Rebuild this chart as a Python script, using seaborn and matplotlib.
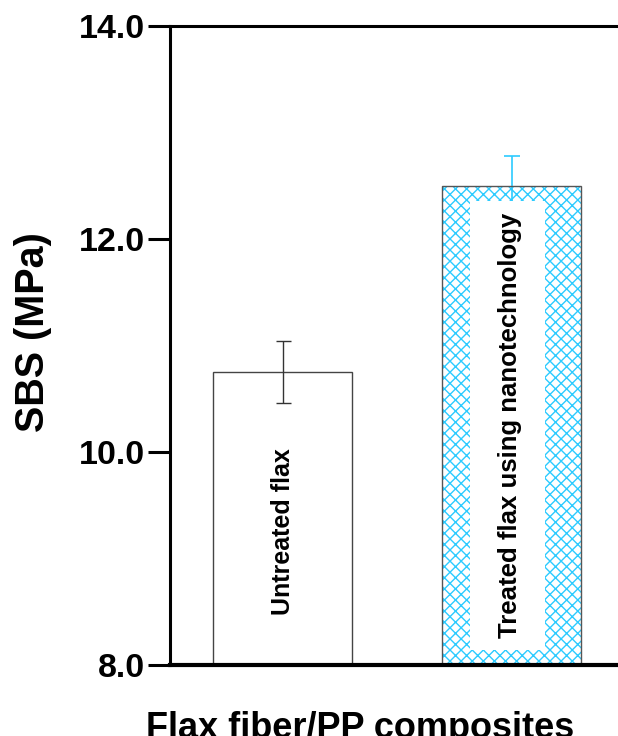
import matplotlib
matplotlib.use('Agg')
import matplotlib.pyplot as plt
import seaborn as sns
import pandas as pd
from matplotlib.patches import Rectangle

categories = ['Untreated flax', 'Treated flax using nanotechnology']
sbs_mean = [10.75, 12.49]
sbs_err = [0.29, 0.29]
y_ticks = [8.0, 10.0, 12.0, 14.0]
y_label = 'SBS (MPa)'
x_label = 'Flax fiber/PP composites'

sns.set_theme(style='white')
plt.rcParams['font.family'] = ['Liberation Sans', 'DejaVu Sans']
plt.rcParams['font.weight'] = 'bold'
plt.rcParams['hatch.linewidth'] = 1.0

W, H = 618, 736
fig = plt.figure(figsize=(W / 100, H / 100), dpi=100)
ax = fig.add_axes([170 / W, (H - 665) / H, (W - 170) / W, (665 - 25.5) / H])

df = pd.DataFrame({'cat': categories, 'sbs': sbs_mean})
sns.barplot(data=df, x='cat', y='sbs', ax=ax, width=0.607, errorbar=None,
            color='white', saturation=1)

ax.set_xlim(-0.493, 1.463)
ax.set_ylim(y_ticks[0], y_ticks[-1])

bars = ax.patches[:2]
b1, b2 = bars
b1.set_facecolor('white')
b1.set_edgecolor('#444444')
b1.set_linewidth(1.0)
b1.set_zorder(1)

blue = '#2ccbff'
b2.set_facecolor('white')
b2.set_edgecolor(blue)
b2.set_hatch('xxx')
b2.set_linewidth(0)
b2.set_zorder(1)
ax.add_patch(Rectangle((b2.get_x(), b2.get_y()), b2.get_width(), b2.get_height(),
                       facecolor='none', edgecolor='#555555', linewidth=1.0, zorder=2.5))

# error bars
xc = [b.get_x() + b.get_width() / 2 for b in bars]
ax.errorbar(xc[0], sbs_mean[0], yerr=sbs_err[0], color='#333333', capsize=5.4,
            elinewidth=1, capthick=1, zorder=2)
ax.errorbar(xc[1], sbs_mean[1], yerr=sbs_err[1], color=blue, capsize=5.8,
            elinewidth=1.2, capthick=1.2, zorder=2)

# white box in treated bar
bx, bw = b2.get_x(), b2.get_width()
ax.add_patch(Rectangle((bx + 0.195 * bw, y_ticks[0] + 0.14), 0.54 * bw,
                       sbs_mean[1] - 0.14 - (y_ticks[0] + 0.14),
                       facecolor='white', edgecolor='none', zorder=3))

ax.text(xc[0], 9.25, categories[0], rotation=90, ha='center', va='center',
        fontsize=18, fontweight='bold', color='black', zorder=4)
ax.text(xc[1] - 0.01, 10.25, categories[1], rotation=90, ha='center', va='center',
        fontsize=18.5, fontweight='bold', color='black', zorder=4)

# axes styling
ax.set_yticks(y_ticks)
ax.set_yticklabels([f'{v:.1f}' for v in y_ticks])
ax.set_xticks([])
ax.set_xlabel('')
ax.set_ylabel('')
ax.spines['right'].set_visible(False)
for s in ['left', 'top']:
    ax.spines[s].set_linewidth(2.2)
    ax.spines[s].set_color('black')
ax.spines['bottom'].set_linewidth(3.0)
ax.spines['bottom'].set_color('black')
ax.tick_params(axis='y', length=16, width=2.2, direction='out', labelsize=24.5,
               pad=2, colors='black', left=True)
for lbl in ax.get_yticklabels():
    lbl.set_fontweight('bold')

fig.text(33 / W, 1 - 332 / H, y_label, rotation=90, ha='center', va='center',
         fontsize=28.5, fontweight='bold', color='black')
fig.text(360 / W, -2 / H, x_label, ha='center', va='baseline',
         fontsize=26, fontweight='bold', color='black')

fig.savefig('out.png', dpi=100)
